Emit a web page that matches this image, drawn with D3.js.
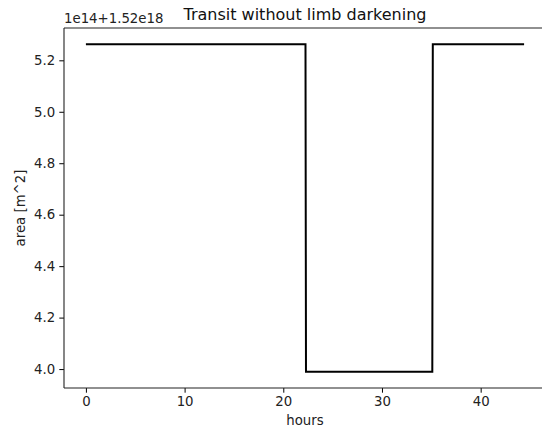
<!DOCTYPE html>
<html>
<head>
<meta charset="utf-8">
<script src="https://cdn.jsdelivr.net/npm/d3@7"></script>
<style>
	html, body { margin: 0; padding: 0; background: #fff; }
	svg { display: block; font-family: "DejaVu Sans", sans-serif; }
</style>
</head>
<body>
<svg id="chart" width="542" height="430"></svg>
<script>
	// light curve, area in units of 1e14 added to 1.52e18
	var hours = [0, 22.25, 22.3, 35.1, 35.15, 44.4];
	var area = [5.262, 5.262, 3.99, 3.99, 5.262, 5.262];
	var xTicks = [0, 10, 20, 30, 40];
	var yTicks = [4.0, 4.2, 4.4, 4.6, 4.8, 5.0, 5.2];

	var margin = { left: 64, top: 28, right: -4, bottom: 42 },
		width = 542 - margin.left - margin.right,
		height = 430 - margin.top - margin.bottom;

	var points = hours.map(function (h, i) { return { x: h, y: area[i] }; });

	// matplotlib-ish 5% margins
	var xMin = d3.min(hours), xMax = d3.max(hours),
		yMin = d3.min(area), yMax = d3.max(area),
		xPad = (xMax - xMin) * 0.05,
		yPad = (yMax - yMin) * 0.05;

	var x = d3.scaleLinear().domain([xMin - xPad, xMax + xPad]).range([0, width]);
	var y = d3.scaleLinear().domain([yMin - yPad, yMax + yPad]).range([height, 0]);

	var svg = d3.select("#chart");
	var g = svg.append("g").attr("transform", "translate(" + margin.left + "," + margin.top + ")");

	g.append("path")
		.datum(points)
		.attr("fill", "none")
		.attr("stroke", "#000")
		.attr("stroke-width", 2)
		.attr("stroke-linejoin", "miter")
		.attr("d", d3.line().x(function (d) { return x(d.x); }).y(function (d) { return y(d.y); }));

	var xAxis = g.append("g")
		.attr("transform", "translate(0," + height + ")")
		.call(d3.axisBottom(x).tickValues(xTicks).tickSize(4.7).tickPadding(4.2).tickFormat(d3.format("d")));

	var yAxis = g.append("g")
		.call(d3.axisLeft(y).tickValues(yTicks).tickSize(4.7).tickPadding(4.2).tickFormat(d3.format(".1f")));

	[xAxis, yAxis].forEach(function (a) {
		a.selectAll("text").attr("font-size", 13.3).attr("font-family", "DejaVu Sans").attr("fill", "#222");
		a.selectAll("line").attr("stroke", "#000").attr("stroke-width", 1);
		a.select(".domain").remove();
	});

	// spines (right one falls outside the picture)
	var spines = [
		[0, 0, 0, height],
		[0, 0, width, 0],
		[0, height, width, height]
	];
	g.selectAll(".spine")
		.data(spines)
		.enter()
		.append("line")
		.attr("class", "spine")
		.attr("x1", function (d) { return d[0]; })
		.attr("y1", function (d) { return d[1]; })
		.attr("x2", function (d) { return d[2]; })
		.attr("y2", function (d) { return d[3]; })
		.attr("stroke", "#222")
		.attr("stroke-width", 1.1);

	svg.append("text")
		.attr("x", margin.left + width / 2)
		.attr("y", 20)
		.attr("text-anchor", "middle")
		.attr("font-size", 16)
		.attr("fill", "#111")
		.text("Transit without limb darkening");

	svg.append("text")
		.attr("x", margin.left)
		.attr("y", 22.5)
		.attr("font-size", 13.3)
		.attr("fill", "#222")
		.text("1e14+1.52e18");

	svg.append("text")
		.attr("x", margin.left + width / 2)
		.attr("y", 425)
		.attr("text-anchor", "middle")
		.attr("font-size", 13.3)
		.attr("fill", "#222")
		.text("hours");

	svg.append("text")
		.attr("transform", "translate(25," + (margin.top + height / 2) + ") rotate(-90)")
		.attr("text-anchor", "middle")
		.attr("font-size", 13.3)
		.attr("fill", "#222")
		.text("area [m^2]");
</script>
</body>
</html>
